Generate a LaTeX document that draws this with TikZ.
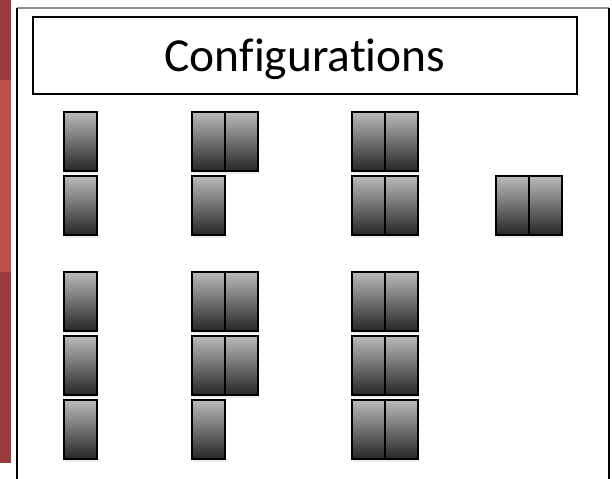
\documentclass[tikz,border=0pt]{standalone}
\usepackage{fontspec}
\setmainfont[Ligatures=NoCommon]{Carlito}
\usetikzlibrary{shadows}
\definecolor{darkred}{HTML}{9B3B3D}
\definecolor{lightred}{HTML}{C0504D}
\tikzset{
  cell/.style={draw=black, line width=1.2pt, top color=black!27, bottom color=black!85,
    drop shadow={shadow xshift=0.6pt, shadow yshift=-1.8pt, opacity=0.15}},
  frameline/.style={line width=1.2pt}
}

\begin{document}
\begin{tikzpicture}[x=0.02cm, y=-0.02cm]
                \useasboundingbox (0,0) rectangle (612,478);

                % Side bar
                \fill[darkred] (0,0) rectangle (11,80);
                \fill[lightred] (0,80) rectangle (11,272);
                \fill[darkred] (0,272) rectangle (11,463);

                % Frame
                \draw[frameline, black!45] (17,8) -- (609,8);
                \draw[frameline] (17,8) -- (17,480);
                \draw[frameline] (609,8) -- (609,480);

                % Title
                \draw[frameline] (33,17) rectangle (577,94);
                \node (title) at (305,59) {\fontsize{27}{30}\selectfont Configurations};

                % Configuration 1+1
                \draw[cell] (64,112) rectangle +(33,59);
                \draw[cell] (64,176) rectangle +(33,59);

                % Configuration 2+1
                \draw[cell] (192,112) rectangle +(33,59);
                \draw[cell] (225,112) rectangle +(33,59);
                \draw[cell] (192,176) rectangle +(33,59);

                % Configuration 2+2
                \draw[cell] (352,112) rectangle +(33,59);
                \draw[cell] (385,112) rectangle +(33,59);
                \draw[cell] (352,176) rectangle +(33,59);
                \draw[cell] (385,176) rectangle +(33,59);

                % Configuration 2
                \draw[cell] (496,176) rectangle +(33,59);
                \draw[cell] (529,176) rectangle +(33,59);

                % Configuration 1+1+1
                \draw[cell] (64,272) rectangle +(33,59);
                \draw[cell] (64,336) rectangle +(33,59);
                \draw[cell] (64,400) rectangle +(33,59);

                % Configuration 2+2+1
                \draw[cell] (192,272) rectangle +(33,59);
                \draw[cell] (225,272) rectangle +(33,59);
                \draw[cell] (192,336) rectangle +(33,59);
                \draw[cell] (225,336) rectangle +(33,59);
                \draw[cell] (192,400) rectangle +(33,59);

                % Configuration 2+2+2
                \draw[cell] (352,272) rectangle +(33,59);
                \draw[cell] (385,272) rectangle +(33,59);
                \draw[cell] (352,336) rectangle +(33,59);
                \draw[cell] (385,336) rectangle +(33,59);
                \draw[cell] (352,400) rectangle +(33,59);
                \draw[cell] (385,400) rectangle +(33,59);
\end{tikzpicture}
\end{document}
